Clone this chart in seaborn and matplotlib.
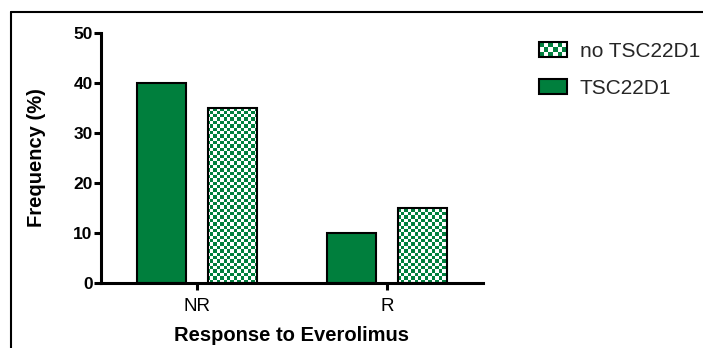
import numpy as np
import pandas as pd
import matplotlib
matplotlib.use("Agg")
import matplotlib.pyplot as plt
from matplotlib.colors import ListedColormap
from matplotlib.patches import Rectangle
from matplotlib.lines import Line2D
from matplotlib.legend_handler import HandlerBase
import seaborn as sns

# ---- data -------------------------------------------------------------
responses = ["NR", "R"]
groups = ["TSC22D1", "no TSC22D1"]
tsc22d1_freq = [40, 10]
no_tsc22d1_freq = [35, 15]
y_ticks = [0, 10, 20, 30, 40, 50]

GREEN = "#007F3D"

df = pd.DataFrame({
    "Response": responses * 2,
    "Group": [groups[0]] * len(responses) + [groups[1]] * len(responses),
    "Frequency": tsc22d1_freq + no_tsc22d1_freq,
})

sns.set_theme(style="white")
plt.rcParams["font.family"] = ["Liberation Sans", "DejaVu Sans"]

W, H = 703, 348
fig = plt.figure(figsize=(W / 100, H / 100), dpi=100)
ax = fig.add_axes([101 / W, 65 / H, 382 / W, 250 / H])

sns.barplot(data=df, x="Response", y="Frequency", hue="Group",
            order=responses, hue_order=groups, palette=[GREEN, GREEN],
            saturation=1, width=0.75, gap=0.32, edgecolor="black",
            linewidth=1.5, legend=False, ax=ax)

# checkerboard fill for the "no TSC22D1" bars
cell = 3.4
nx, ny = int(round(382 / cell)), int(round(250 / cell))
checker = np.indices((ny, nx)).sum(axis=0) % 2
cmap = ListedColormap(["white", GREEN])
for bar in ax.containers[1]:
    bar.set_facecolor("none")
    im = ax.imshow(checker, extent=(0, 1, 0, 1), transform=ax.transAxes,
                   aspect="auto", interpolation="nearest", cmap=cmap,
                   zorder=bar.get_zorder() - 0.1)
    im.set_clip_path(bar)

ax.set_xlim(-0.505, 1.505)
ax.set_ylim(0, 50)
ax.set_yticks(y_ticks)

sns.despine(ax=ax)
for side in ("left", "bottom"):
    ax.spines[side].set_linewidth(2.2)
    ax.spines[side].set_color("black")
ax.tick_params(axis="both", bottom=True, left=True, direction="out",
               length=5, width=2.2, color="black", labelcolor="black")
ax.tick_params(axis="x", labelsize=13.5, pad=6)
ax.tick_params(axis="y", labelsize=12.5, pad=1)
for lbl in ax.get_yticklabels():
    lbl.set_fontweight("bold")

ax.set_xlabel("Response to Everolimus", fontsize=14.5, fontweight="bold",
              color="black", labelpad=8)
ax.set_ylabel("Frequency (%)", fontsize=14.5, fontweight="bold",
              color="black", labelpad=20)


class CheckerHandler(HandlerBase):
    def __init__(self, ncols, nrows, color):
        super().__init__()
        self.ncols, self.nrows, self.color = ncols, nrows, color

    def create_artists(self, legend, orig_handle, xdescent, ydescent,
                       width, height, fontsize, trans):
        x0, y0 = -xdescent, -ydescent
        arts = [Rectangle((x0, y0), width, height, facecolor="white",
                          edgecolor="none", transform=trans)]
        cw, ch = width / self.ncols, height / self.nrows
        for i in range(self.ncols):
            for j in range(self.nrows):
                if (i + j) % 2 == 0:
                    arts.append(Rectangle((x0 + i * cw, y0 + j * ch), cw, ch,
                                          facecolor=self.color, edgecolor="none",
                                          transform=trans))
        arts.append(Rectangle((x0, y0), width, height, fill=False,
                              edgecolor="black", linewidth=1.5, transform=trans))
        return arts


checker_handle = Rectangle((0, 0), 1, 1)
solid_handle = Rectangle((0, 0), 1, 1, facecolor=GREEN, edgecolor="black",
                         linewidth=1.5)
fig.legend(handles=[checker_handle, solid_handle],
           labels=[groups[1], groups[0]],
           handler_map={checker_handle: CheckerHandler(6, 3, GREEN)},
           loc="upper left", bbox_to_anchor=(539 / W, 1 - 42 / H),
           frameon=False, fontsize=15, handlelength=1.35, handleheight=0.72,
           handletextpad=0.6, labelspacing=0.85, borderpad=0, borderaxespad=0)

# figure frame (top and left edges)
fig.add_artist(Line2D([10.5 / W, 1], [1 - 11.5 / H] * 2,
                      transform=fig.transFigure, color="black", lw=1.5))
fig.add_artist(Line2D([10.5 / W] * 2, [0, 1 - 11.5 / H],
                      transform=fig.transFigure, color="black", lw=1.5))

fig.savefig("out.png", dpi=100)
